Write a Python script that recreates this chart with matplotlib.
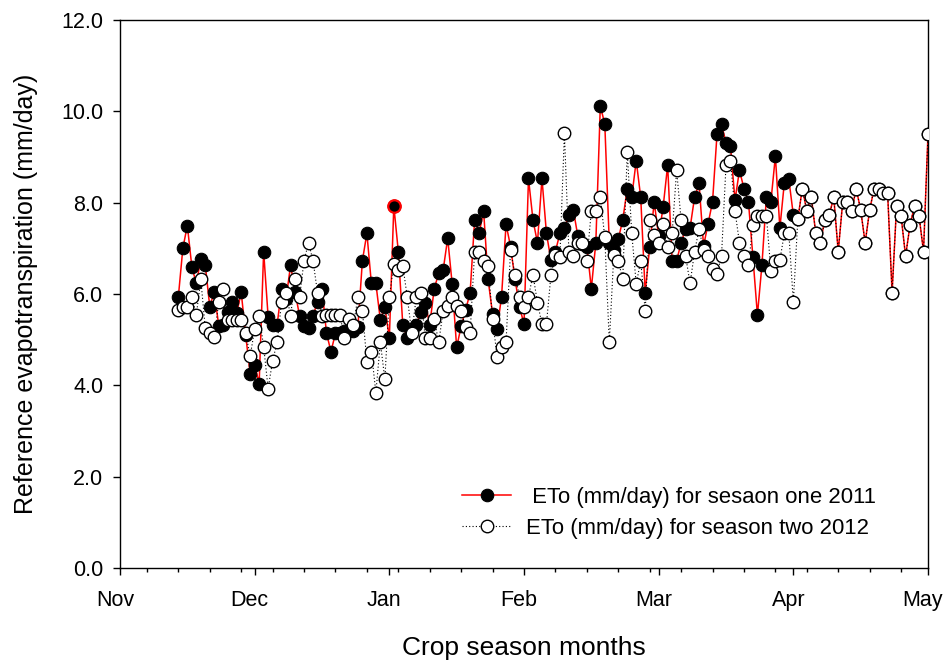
#!/usr/bin/env python3
"""
Daily reference evapotranspiration (ETo) for two crop seasons,
Nov - May, one point per day on a 30-day month axis.
"""

import numpy as np
import matplotlib
matplotlib.use('Agg')
import matplotlib.pyplot as plt
from matplotlib.ticker import FixedLocator, FormatStrFormatter
from matplotlib.transforms import ScaledTranslation

# ─── Data ──────────────────────────────────────────────────────────────────
FIRST_DAY = 13          # day number of first record (Nov 1 = day 0)
DAYS_PER_MONTH = 30

# season one, Nov 13 -> end of March
eto_2011_nov_mar = [
    5.94, 7.0, 7.5, 6.6, 6.23, 6.76, 6.63, 5.72, 6.05, 5.3,
    5.32, 5.6, 5.83, 5.58, 6.04, 5.1, 4.25, 4.45, 4.04, 6.93,
    5.5, 5.32, 5.32, 6.12, 5.9, 6.63, 6.05, 5.52, 5.3, 5.25,
    5.52, 5.83, 6.12, 5.14, 4.74, 5.14, 5.15, 5.18, 5.2, 5.2,
    5.28, 6.73, 7.33, 6.23, 6.23, 5.43, 5.72, 5.03, 7.93, 6.93,
    5.32, 5.03, 5.2, 5.32, 5.6, 5.81, 5.32, 6.12, 6.45, 6.53,
    7.22, 6.22, 4.83, 5.3, 5.65, 6.03, 7.62, 7.33, 7.82, 6.32,
    5.56, 5.23, 5.94, 7.53, 7.04, 6.32, 5.72, 5.34, 8.53, 7.62,
    7.12, 8.53, 7.33, 6.74, 6.93, 7.33, 7.44, 7.73, 7.84, 7.26,
    7.1, 7.04, 6.12, 7.12, 10.12, 9.72, 7.12, 6.96, 7.2, 7.62,
    8.31, 8.12, 8.92, 8.12, 6.03, 7.02, 8.02, 7.26, 7.91, 8.82,
    6.73, 6.73, 7.12, 7.42, 7.45, 8.12, 8.42, 7.05, 7.53, 8.02,
    9.5, 9.72, 9.31, 9.23, 8.05, 8.71, 8.31, 8.02, 6.8, 5.54,
    6.63, 8.12, 8.02, 9.02, 7.44, 8.44, 8.51, 7.73,
]

# season two, Nov 13 -> end of March
eto_2012_nov_mar = [
    5.65, 5.72, 5.72, 5.93, 5.54, 6.32, 5.25, 5.15, 5.05, 5.83,
    6.12, 5.43, 5.43, 5.43, 5.43, 5.14, 4.64, 5.23, 5.52, 4.85,
    3.93, 4.54, 4.94, 5.83, 6.03, 5.52, 6.32, 5.93, 6.73, 7.12,
    6.73, 6.03, 5.52, 5.54, 5.54, 5.54, 5.54, 5.03, 5.45, 5.32,
    5.93, 5.63, 4.52, 4.74, 3.84, 4.94, 4.13, 5.93, 6.66, 6.53,
    6.62, 5.93, 5.14, 5.93, 6.03, 5.03, 5.03, 5.45, 4.94, 5.63,
    5.74, 5.93, 5.74, 5.63, 5.27, 5.14, 6.93, 6.93, 6.73, 6.61,
    5.45, 4.63, 4.83, 4.94, 6.96, 6.42, 5.94, 5.72, 5.94, 6.42,
    5.81, 5.34, 5.34, 6.42, 6.85, 6.82, 9.52, 6.93, 6.83, 7.12,
    7.12, 6.73, 7.82, 7.82, 8.12, 7.24, 4.94, 6.85, 6.73, 6.32,
    9.12, 7.33, 6.22, 6.73, 5.63, 7.62, 7.3, 7.12, 7.53, 7.02,
    7.33, 8.71, 7.62, 6.83, 6.23, 6.93, 7.42, 6.96, 6.83, 6.54,
    6.44, 6.83, 8.82, 8.92, 7.82, 7.12, 6.83, 6.63, 7.51, 7.71,
    7.71, 7.71, 6.51, 6.73, 6.74, 7.33, 7.33, 5.82,
]

# April: both seasons carry the same values
eto_april = [
    7.64, 8.31, 7.82, 8.12, 7.33, 7.12, 7.61, 7.73, 8.12, 6.93,
    8.02, 8.02, 7.82, 8.31, 7.84, 7.12, 7.84, 8.31, 8.31, 8.22,
    8.22, 6.03, 7.93, 7.71, 6.83, 7.51, 7.93, 7.71, 6.93, 9.5,
]

month_labels = ['Nov', 'Dec', 'Jan', 'Feb', 'Mar', 'Apr', 'May']

LABEL_2011 = ' ETo (mm/day) for sesaon one 2011'
LABEL_2012 = 'ETo (mm/day) for season two 2012'

HILITE_DAY = 61   # the point drawn with a red rim in the original

OUT_FIGURE = 'out.png'


def make_figure():
    plt.rcParams['font.family'] = ['Liberation Sans', 'DejaVu Sans']

    eto_2011 = np.array(eto_2011_nov_mar + eto_april)
    eto_2012 = np.array(eto_2012_nov_mar + eto_april)
    days_2011 = np.arange(FIRST_DAY, FIRST_DAY + len(eto_2011))
    days_2012 = np.arange(FIRST_DAY, FIRST_DAY + len(eto_2012))

    fig = plt.figure(figsize=(9.44, 6.6), dpi=100)
    ax = fig.add_axes([120 / 944, 92 / 660, 808 / 944, 548 / 660])

    ax.plot(days_2011, eto_2011, '-', color='red', linewidth=1.1,
            marker='o', markersize=9, markerfacecolor='black',
            markeredgecolor='black', markeredgewidth=0.8,
            label=LABEL_2011, zorder=2)
    i = HILITE_DAY - FIRST_DAY
    ax.plot(days_2011[i], eto_2011[i], 'o', markersize=9,
            markerfacecolor='black', markeredgecolor='red',
            markeredgewidth=1.6, zorder=2.5)
    ax.plot(days_2012, eto_2012, linestyle=(0, (1, 2)), color='black',
            linewidth=0.8, marker='o', markersize=9,
            markerfacecolor='white', markeredgecolor='black',
            markeredgewidth=1.0, label=LABEL_2012, zorder=3)

    # ── axes ────────────────────────────────────────────────────────────
    n_months = len(month_labels) - 1
    ax.set_xlim(0, n_months * DAYS_PER_MONTH)
    ax.set_ylim(0, 12)
    ax.xaxis.set_major_locator(
        FixedLocator(np.arange(0, n_months + 1) * DAYS_PER_MONTH))
    ax.set_xticklabels(month_labels)
    ax.xaxis.set_minor_locator(
        FixedLocator(np.arange(6, n_months * DAYS_PER_MONTH, 7)))
    ax.set_yticks(np.arange(0, 12.1, 2))
    ax.yaxis.set_major_formatter(FormatStrFormatter('%.1f'))

    ax.tick_params(axis='both', which='major', direction='out', length=5,
                   width=1, labelsize=15.5, colors='black')
    ax.tick_params(axis='x', which='major', pad=11)
    ax.tick_params(axis='y', which='major', pad=7)
    ax.tick_params(axis='x', which='minor', direction='out', length=3,
                   width=1)
    for side in ax.spines.values():
        side.set_linewidth(1.0)

    # month names sit a little left of their ticks in the original
    shift = ScaledTranslation(-5 / 100, 0, fig.dpi_scale_trans)
    for lab in ax.get_xticklabels():
        lab.set_transform(lab.get_transform() + shift)

    ax.set_xlabel('Crop season months', fontsize=19, labelpad=18)
    ax.set_ylabel('Reference evapotranspiration (mm/day)', fontsize=18,
                  labelpad=17)

    ax.legend(loc='upper left', bbox_to_anchor=(0.423, 0.1485),
              frameon=False, fontsize=15.9, handlelength=2.25,
              handletextpad=0.65, labelspacing=0.48,
              borderaxespad=0, borderpad=0)

    fig.savefig(OUT_FIGURE, dpi=100)
    plt.close(fig)


if __name__ == '__main__':
    make_figure()
